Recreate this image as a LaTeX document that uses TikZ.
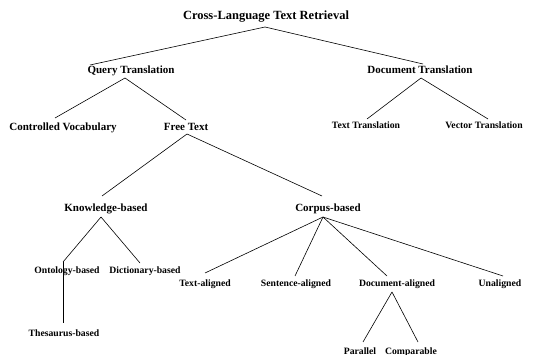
\documentclass[tikz,border=0pt]{standalone}
\usepackage{fontspec}
\setmainfont{Liberation Serif}
\usetikzlibrary{calc}
\tikzset{
  lvla/.style={anchor=base, inner sep=1pt, font=\fontsize{12.5}{14}\selectfont\bfseries},
  lvlb/.style={anchor=base, inner sep=1pt, font=\fontsize{11}{13}\selectfont\bfseries},
  lvlc/.style={anchor=base, inner sep=1pt, font=\fontsize{9.7}{11}\selectfont\bfseries},
  edge/.style={draw=black, line width=0.6pt}
}
\begin{document}
\begin{tikzpicture}[x=1pt, y=-1pt]
\useasboundingbox (0,0) rectangle (535,355);
\node[lvla] (root) at (266,20) {Cross-Language Text Retrieval};
\node[lvlb] (qt) at (131,74) {Query Translation};
\node[lvlb] (dt) at (420,74) {Document Translation};
\node[lvlb] (cv) at (63,131) {Controlled Vocabulary};
\node[lvlb] (ft) at (186,131) {Free Text};
\node[lvlc] (tt) at (366,129) {Text Translation};
\node[lvlc] (vt) at (484,129) {Vector Translation};
\node[lvlb] (kb) at (106,212) {Knowledge-based};
\node[lvlb] (cb) at (328,212) {Corpus-based};
\node[lvlc] (ob) at (67,273) {Ontology-based};
\node[lvlc] (db) at (145,273) {Dictionary-based};
\node[lvlc] (tb) at (64,336) {Thesaurus-based};
\node[lvlc] (ta) at (205,287) {Text-aligned};
\node[lvlc] (sa) at (296,287) {Sentence-aligned};
\node[lvlc] (da) at (397,287) {Document-aligned};
\node[lvlc] (ua) at (500,287) {Unaligned};
\node[lvlc] (pa) at (360,354) {Parallel};
\node[lvlc] (co) at (411,354) {Comparable};

\draw[edge] ($(root.base)+(-1,7)$) -- ($(qt.base)+(-41,-9)$);
\draw[edge] ($(root.base)+(-1,7)$) -- ($(dt.base)+(3,-10)$);
\draw[edge] ($(qt.base)+(-6,4)$) -- ($(cv.base)+(-8,-13)$);
\draw[edge] ($(qt.base)+(-6,4)$) -- ($(ft.base)+(0,-11)$);
\draw[edge] ($(dt.base)+(1,4)$) -- ($(tt.base)+(1,-10)$);
\draw[edge] ($(dt.base)+(1,4)$) -- ($(vt.base)+(4,-10)$);
\draw[edge] ($(ft.base)+(1,3)$) -- ($(kb.base)+(-4,-16)$);
\draw[edge] ($(ft.base)+(1,3)$) -- ($(cb.base)+(-6,-16)$);
\draw[edge] ($(kb.base)+(-5,5)$) -- ($(ob.base)+(-4,-11)$);
\draw[edge] ($(kb.base)+(-5,5)$) -- ($(db.base)+(-5,-10)$);
\draw[edge] ($(ob.base)+(-4,-11)$) -- ($(tb.base)+(-1,-13)$);
\draw[edge] ($(cb.base)+(-5,5)$) -- ($(ta.base)+(0,-14)$);
\draw[edge] ($(cb.base)+(-5,5)$) -- ($(sa.base)+(-1,-11)$);
\draw[edge] ($(cb.base)+(-5,5)$) -- ($(da.base)+(-10,-11)$);
\draw[edge] ($(cb.base)+(-5,5)$) -- ($(ua.base)+(3,-11)$);
\draw[edge] ($(da.base)+(-5,5)$) -- ($(pa.base)+(3,-12)$);
\draw[edge] ($(da.base)+(-5,5)$) -- ($(co.base)+(7,-12)$);
\end{tikzpicture}
\end{document}
